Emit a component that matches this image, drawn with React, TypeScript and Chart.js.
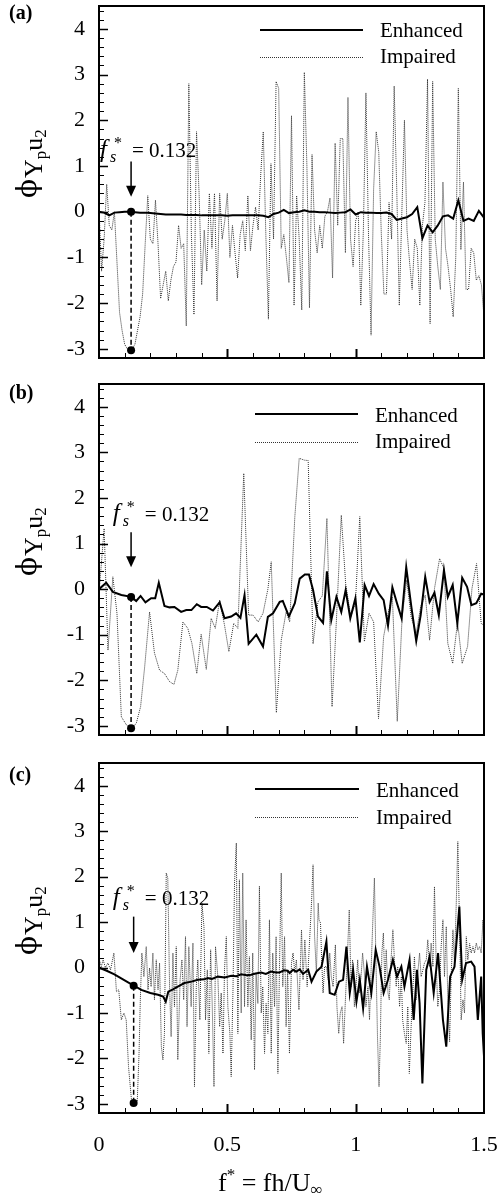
import React, { useEffect, useRef } from "react";
import { Chart, registerables } from "chart.js";
Chart.register(...registerables);

const FONT = '"Liberation Serif", "DejaVu Serif", "Times New Roman", serif';
const PHI_FONT = '"DejaVu Serif", serif';

// ---------------- DATA ----------------
const seriesNames = ["Enhanced", "Impaired"];
const panelLabels = ["(a)", "(b)", "(c)"];
const yTicks = [-3, -2, -1, 0, 1, 2, 3, 4];
const xTicks = [0, 0.5, 1, 1.5];
const noteText = "= 0.132";

// frequency bins (uniform FFT grid)
const bins = (n: number, step: number) => Array.from({ length: n }, (_, i) => +(i * step).toFixed(3));

// Panel (a)
const aImpV = [
  0.1, -1.3, -0.6, 0.6, -0.3, -0.4, 0.0, -1.1, -2.2, -2.6,
  -2.9, -3.0, -3.03, -3.0, -2.9, -2.6, -2.3, -1.8, -0.7, 0.35,
  -0.6, -0.7, 0.25, -0.7, -1.9, -1.6, -1.3, -1.95, -1.5, -1.2,
  -1.1, -0.3, -0.8, -0.7, -2.5, 2.8, -0.5, -2.25, 1.75, 0.4,
  -1.6, -0.4, -1.3, 0.4, -0.8, 0.4, -1.95, 0.4, -0.6, -0.2,
  0.4, -1.0, -0.3, -0.9, -1.45, -0.5, -0.2, -0.85, 0.35, -0.85,
  -0.3, 0.1, -0.4, 0.8, 1.75, -0.5, -2.35, 1.05, -0.6, 2.85,
  2.7, -0.8, -0.5, -1.0, -1.55, 2.1, -2.05, 0.35, -0.6, -2.15,
  3.05, 1.0, -2.1, 1.25, -0.4, -0.9, -0.3, -0.8, -0.1, 0.0,
  0.3, -1.45, 1.5, -0.3, 1.6, 1.6, -0.9, 2.5, -0.6, -1.2,
  -0.2, 0.0, -2.05, -0.4, 2.6, -0.5, -2.7, 0.5, 1.75, 1.3,
  -0.5, -1.8, -1.8, 0.2, -0.6, 2.75, 0.5, -2.05, 0.0, 2.0,
  -0.4, -1.1, -1.7, -0.6, -0.8, -2.05, -0.3, 0.2, 2.9, -2.45,
  2.85, -0.6, -1.2, -1.7, 0.65, -0.8, -1.2, -1.7, -2.3, -1.0,
  2.7, -0.83, 0.65, -1.7, -1.7, -0.8, -0.9, -1.5, -1.4, -1.6,
  -2.3,
];
const aImpF = bins(aImpV.length, 0.01);
const aEnhV = [
  0.0, -0.02, -0.08, -0.02, -0.01, 0.0, 0.0, -0.01, -0.02, -0.02,
  -0.03, -0.04, -0.05, -0.06, -0.06, -0.06, -0.06, -0.07, -0.07, -0.07,
  -0.08, -0.08, -0.08, -0.08, -0.08, -0.09, -0.08, -0.08, -0.08, -0.08,
  -0.08, -0.08, -0.09, -0.12, -0.05, -0.02, 0.04, -0.03, -0.01, 0.0,
  0.03, 0.0, 0.0, -0.01, -0.01, -0.02, -0.03, -0.02, -0.01, 0.05,
  -0.06, -0.01, -0.02, -0.02, -0.03, -0.03, -0.02, -0.05, -0.18, -0.15,
  -0.12, -0.05, 0.1, -0.58, -0.3, -0.45, -0.3, -0.1, -0.08, -0.15,
  0.25, -0.2, -0.15, -0.2, 0.02, -0.13,
];
const aEnhF = bins(aEnhV.length, 0.02);

// Panel (b)
const bEnhF = [
  0.0, 0.028, 0.054, 0.087, 0.126, 0.145, 0.162, 0.181, 0.203, 0.219,
  0.233, 0.255, 0.275, 0.294, 0.32, 0.34, 0.36, 0.381, 0.398, 0.42,
  0.444, 0.47, 0.489, 0.515, 0.534, 0.551, 0.567, 0.583, 0.613, 0.639,
  0.658, 0.678, 0.704, 0.716, 0.74, 0.763, 0.782, 0.802, 0.818, 0.834,
  0.853, 0.873, 0.888, 0.905, 0.925, 0.944, 0.961, 0.979, 0.999, 1.016,
  1.035, 1.052, 1.07, 1.09, 1.109, 1.126, 1.143, 1.161, 1.179, 1.197,
  1.217, 1.236, 1.253, 1.271, 1.288, 1.307, 1.324, 1.344, 1.359, 1.378,
  1.396, 1.415, 1.434, 1.451, 1.47, 1.489, 1.5,
];
const bEnhV = [
  0.0, 0.14, -0.06, -0.13, -0.17, -0.26, -0.15, -0.29, -0.2, -0.2,
  0.14, -0.37, -0.4, -0.39, -0.5, -0.46, -0.46, -0.33, -0.39, -0.39,
  -0.47, -0.29, -0.64, -0.6, -0.53, -0.63, -0.13, -1.2, -1.0, -1.26,
  -0.61, -0.53, -0.28, -0.26, -0.6, -0.31, 0.23, 0.32, 0.32, -0.02,
  -0.6, -0.74, 0.39, -0.68, -0.17, -0.5, -0.02, -0.64, -0.2, -1.17,
  0.09, -0.15, 0.11, -0.1, -0.24, -0.8, 0.04, -0.31, -0.64, 0.48,
  -0.39, -1.14, -0.58, 0.27, -0.28, -0.08, -0.57, 0.42, -0.17, 0.09,
  -0.75, 0.25, 0.05, -0.35, -0.31, -0.1, -0.12,
];
const bImpF = [
  0.0, 0.02, 0.035, 0.054, 0.07, 0.087, 0.107, 0.126, 0.145, 0.162,
  0.178, 0.197, 0.216, 0.236, 0.255, 0.275, 0.292, 0.307, 0.327, 0.346,
  0.362, 0.381, 0.398, 0.418, 0.437, 0.453, 0.47, 0.489, 0.506, 0.525,
  0.541, 0.564, 0.583, 0.6, 0.62, 0.639, 0.658, 0.671, 0.691, 0.71,
  0.729, 0.743, 0.763, 0.78, 0.8, 0.815, 0.834, 0.853, 0.87, 0.888,
  0.908, 0.925, 0.944, 0.961, 0.981, 0.999, 1.016, 1.034, 1.052, 1.07,
  1.089, 1.109, 1.126, 1.143, 1.162, 1.181, 1.199, 1.216, 1.236, 1.253,
  1.271, 1.288, 1.307, 1.327, 1.344, 1.359, 1.378, 1.397, 1.415, 1.436,
  1.453, 1.471, 1.489, 1.5,
];
const bImpV = [
  -0.1, 1.33, -1.34, 0.27, -0.53, -2.8, -2.98, -3.05, -2.95, -2.58,
  -1.7, -0.5, -1.4, -1.78, -1.85, -2.03, -2.09, -1.78, -0.72, -0.86,
  -1.19, -1.85, -0.99, -1.76, -0.64, -0.86, -0.24, -0.79, -1.37, -0.75,
  -0.86, 2.54, -0.57, -0.57, -0.72, -0.53, 0.0, 0.6, -2.71, -1.12,
  -0.5, -0.72, 1.59, 2.87, 2.83, 2.82, -1.2, -0.28, -0.15, 1.55,
  -2.58, -0.68, 1.62, 0.12, -0.61, -0.31, 1.59, -1.15, -0.53, -0.72,
  -2.84, -1.04, -0.53, -0.17, -2.9, -0.61, 0.2, -0.61, -0.97, -0.39,
  -0.13, -1.12, 0.01, 0.67, 0.45, -1.19, -1.63, -0.72, -1.63, -1.26,
  0.01, 0.56, -0.75, -0.8,
];

// Panel (c)
const cEnhF = [
  0.0, 0.03, 0.06, 0.09, 0.115, 0.136, 0.165, 0.2, 0.23, 0.25,
  0.26, 0.27, 0.288, 0.307, 0.333, 0.36, 0.385, 0.41, 0.424, 0.44,
  0.463, 0.49, 0.515, 0.535, 0.554, 0.575, 0.593, 0.61, 0.632, 0.65,
  0.67, 0.69, 0.703, 0.72, 0.735, 0.743, 0.756, 0.769, 0.782, 0.795,
  0.815, 0.828, 0.847, 0.867, 0.886, 0.899, 0.918, 0.935, 0.951, 0.964,
  0.977, 0.99, 1.003, 1.016, 1.029, 1.044, 1.061, 1.078, 1.093, 1.109,
  1.126, 1.145, 1.161, 1.178, 1.19, 1.21, 1.226, 1.239, 1.249, 1.26,
  1.275, 1.288, 1.304, 1.321, 1.34, 1.353, 1.368, 1.385, 1.404, 1.415,
  1.43, 1.45, 1.463, 1.476, 1.489, 1.495, 1.5,
];
const cEnhV = [
  0.0, -0.07, -0.15, -0.25, -0.33, -0.4, -0.49, -0.56, -0.6, -0.64,
  -0.75, -0.53, -0.48, -0.42, -0.34, -0.31, -0.27, -0.26, -0.23, -0.25,
  -0.2, -0.22, -0.18, -0.19, -0.15, -0.17, -0.16, -0.13, -0.11, -0.14,
  -0.09, -0.11, -0.11, -0.06, -0.07, -0.12, -0.05, -0.09, -0.04, -0.14,
  -0.05, -0.31, -0.09, 0.02, 0.57, -0.56, -0.6, -0.31, -0.27, 0.46,
  -0.56, -0.05, -0.75, -0.27, -0.9, 0.02, -0.56, 0.39, 0.02, -0.56,
  -0.27, 0.17, -0.2, 0.02, -0.42, 0.17, -1.15, -0.05, -0.78, -2.55,
  -0.05, 0.24, -0.56, 0.32, -1.15, -1.74, -0.2, 0.02, 1.34, -0.27,
  0.1, 0.13, 0.02, -1.15, -0.2, -1.45, -1.95,
];
const cImpF = [
  0.0, 0.009, 0.016, 0.025, 0.035, 0.045, 0.058, 0.068, 0.077, 0.087,
  0.097, 0.106, 0.115, 0.126, 0.139, 0.149, 0.156, 0.161, 0.167, 0.175,
  0.184, 0.191, 0.197, 0.203, 0.21, 0.216, 0.223, 0.23, 0.236, 0.243,
  0.249, 0.255, 0.262, 0.268, 0.275, 0.281, 0.288, 0.294, 0.301, 0.307,
  0.316, 0.323, 0.33, 0.337, 0.343, 0.35, 0.359, 0.366, 0.372, 0.379,
  0.385, 0.393, 0.401, 0.409, 0.415, 0.422, 0.428, 0.435, 0.441, 0.448,
  0.454, 0.463, 0.47, 0.476, 0.483, 0.489, 0.496, 0.502, 0.51, 0.515,
  0.522, 0.528, 0.535, 0.541, 0.547, 0.554, 0.56, 0.567, 0.573, 0.58,
  0.586, 0.593, 0.599, 0.606, 0.612, 0.619, 0.625, 0.632, 0.638, 0.645,
  0.651, 0.658, 0.664, 0.671, 0.677, 0.684, 0.69, 0.697, 0.703, 0.71,
  0.716, 0.723, 0.729, 0.735, 0.742, 0.75, 0.756, 0.763, 0.769, 0.779,
  0.789, 0.795, 0.802, 0.811, 0.818, 0.828, 0.834, 0.84, 0.847, 0.854,
  0.857, 0.863, 0.868, 0.873, 0.879, 0.886, 0.893, 0.899, 0.905, 0.912,
  0.921, 0.927, 0.934, 0.94, 0.947, 0.953, 0.96, 0.966, 0.975, 0.982,
  0.988, 0.995, 1.001, 1.008, 1.014, 1.021, 1.027, 1.034, 1.04, 1.048,
  1.054, 1.061, 1.067, 1.073, 1.079, 1.085, 1.091, 1.096, 1.102, 1.108,
  1.114, 1.119, 1.126, 1.131, 1.137, 1.145, 1.151, 1.158, 1.164, 1.171,
  1.178, 1.183, 1.19, 1.197, 1.203, 1.209, 1.216, 1.223, 1.229, 1.236,
  1.242, 1.249, 1.255, 1.262, 1.268, 1.275, 1.281, 1.288, 1.294, 1.301,
  1.307, 1.314, 1.32, 1.327, 1.333, 1.34, 1.346, 1.353, 1.359, 1.366,
  1.372, 1.379, 1.385, 1.392, 1.398, 1.405, 1.411, 1.418, 1.424, 1.431,
  1.437, 1.444, 1.45, 1.457, 1.463, 1.47, 1.476, 1.483, 1.489, 1.496,
  1.5,
];
const cImpV = [
  0.2, 0.02, 0.17, 0.0, 0.1, -0.05, 0.32, -0.53, -0.49, -1.15,
  -1.0, -1.15, -2.18, -2.88, -2.99, -2.95, -1.89, -0.71, 0.32, -0.2,
  0.46, -0.49, -0.01, -0.42, 0.32, -0.71, 0.17, -0.49, 0.1, -1.74,
  -2.03, -1.45, 2.08, 1.97, -0.42, -1.52, 0.32, -0.86, 0.46, -2.03,
  -0.27, 0.17, -0.71, 0.68, -1.3, 0.46, -0.86, 0.54, -2.62, -0.42,
  0.17, -1.15, 1.42, 0.9, -1.15, -0.05, -1.89, 0.39, -0.79, -2.62,
  0.46, -0.2, -1.3, -0.56, -1.89, -0.05, 0.68, -0.86, -1.45, -2.4,
  -0.49, 1.86, 2.74, -1.45, 1.93, -1.0, 2.08, -0.86, 1.05, -0.86,
  0.24, -1.59, 0.32, -2.25, -0.12, -0.79, 1.79, -1.0, -0.42, -1.89,
  -0.79, -1.45, 1.05, -1.89, 0.32, -0.86, 0.68, -2.33, -0.05, 2.08,
  -0.42, 0.68, -1.3, -0.05, -1.89, 0.1, 0.32, -0.12, 0.17, -0.93,
  0.83, -0.27, 0.61, -0.42, 0.32, 1.42, 2.26, 0.68, -0.12, 1.42,
  1.05, 0.98, 0.1, -0.56, 0.02, 0.02, -0.27, 0.32, -0.2, -0.42,
  0.5, -0.86, -1.45, -1.0, -0.86, -1.67, -0.71, 0.02, 1.27, -0.42,
  0.17, -0.86, -0.42, 0.17, -0.56, -0.2, 0.32, -0.12, -0.86, -0.42,
  -1.15, 0.1, 1.05, 1.97, 0.17, -1.52, -2.62, -1.59, 0.32, 0.76,
  -0.42, 0.39, -0.56, -0.71, 0.1, 0.83, 0.17, -0.42, 0.02, -0.86,
  -0.2, -1.15, -1.45, -1.67, -0.86, -2.33, -1.3, -0.49, 0.24, -0.71,
  -0.12, 0.32, -0.2, -0.05, 0.1, 0.17, 0.61, 0.02, 0.54, 0.02,
  1.78, 0.02, -0.86, -0.49, 0.46, 1.05, -0.2, 0.9, -0.71, -1.63,
  -0.2, 0.83, 0.1, 1.42, 2.77, 0.83, -1.15, -0.71, -1.0, 0.68,
  0.17, 0.53, 0.32, 0.46, 0.32, 0.54, 0.39, 0.46, 0.32, 1.05,
  0.3,
];

// Shedding-frequency markers (f*_s) per panel
const markF = [0.125, 0.125, 0.135];
const markEnh = [0.0, -0.17, -0.4];
const markImp = [-3.03, -3.05, -2.98];

// ---------------- LAYOUT ----------------
type Cfg = {
  idx: number;
  top: number;
  height: number;
  xAxisH: number;
  enhF: number[]; enhV: number[];
  impF: number[]; impV: number[];
  labelDy: number;
  leg: { x0: number; x1: number; tx: number; l1: number; t1: number; l2: number; t2: number };
  note: { f: number; v: number };
  arrow: { top: number; tip: number };
  showX: boolean;
};

const panels: Cfg[] = [
  {
    idx: 0, top: 0, height: 378, xAxisH: 20,
    enhF: aEnhF, enhV: aEnhV, impF: aImpF, impV: aImpV,
    labelDy: 13,
    leg: { x0: 260, x1: 363, tx: 380, l1: 24, t1: 31, l2: 51, t2: 57 },
    note: { f: 0.004, v: 1.19 },
    arrow: { top: 1.1, tip: 0.33 },
    showX: false,
  },
  {
    idx: 1, top: 378, height: 379, xAxisH: 22,
    enhF: bEnhF, enhV: bEnhV, impF: bImpF, impV: bImpV,
    labelDy: 15,
    leg: { x0: 255, x1: 358, tx: 375, l1: 30, t1: 38, l2: 58, t2: 64 },
    note: { f: 0.054, v: 1.49 },
    arrow: { top: 1.25, tip: 0.48 },
    showX: false,
  },
  {
    idx: 2, top: 757, height: 444, xAxisH: 88,
    enhF: cEnhF, enhV: cEnhV, impF: cImpF, impV: cImpV,
    labelDy: 18,
    leg: { x0: 255, x1: 359, tx: 376, l1: 26, t1: 34, l2: 54, t2: 61 },
    note: { f: 0.054, v: 1.38 },
    arrow: { top: 1.12, tip: 0.32 },
    showX: true,
  },
];

const IMP_COLOR = "#333333";

function line(ctx: CanvasRenderingContext2D, x0: number, y0: number, x1: number, y1: number) {
  ctx.beginPath();
  ctx.moveTo(x0, y0);
  ctx.lineTo(x1, y1);
  ctx.stroke();
}

function makeDecor(p: Cfg) {
  return {
    id: "decor" + p.idx,
    afterDraw(chart: any) {
      const ctx: CanvasRenderingContext2D = chart.ctx;
      const ca = chart.chartArea;
      const xs = chart.scales.x;
      const ys = chart.scales.y;
      ctx.save();
      ctx.strokeStyle = "#000";
      ctx.fillStyle = "#000";
      ctx.setLineDash([]);
      // inward ticks, bottom
      for (let k = 1; k < 15; k++) {
        const px = Math.round(xs.getPixelForValue(k / 10)) + 0.5;
        const major = k % 5 === 0;
        ctx.lineWidth = major ? 2 : 1;
        line(ctx, px, ca.bottom, px, ca.bottom - (major ? 9 : 5));
      }
      // inward ticks, left
      for (let k = -16; k <= 22; k++) {
        const v = k / 5;
        if (v <= ys.min || v >= ys.max) continue;
        const py = Math.round(ys.getPixelForValue(v)) + 0.5;
        const major = k % 5 === 0;
        ctx.lineWidth = major ? 1.5 : 1;
        line(ctx, ca.left, py, ca.left + (major ? 9 : 5), py);
      }
      // frame
      ctx.lineWidth = 2;
      ctx.strokeRect(ca.left, ca.top, ca.right - ca.left, ca.bottom - ca.top);

      // panel label
      ctx.font = `bold 20px ${FONT}`;
      ctx.textAlign = "left";
      ctx.textBaseline = "alphabetic";
      ctx.fillText(panelLabels[p.idx], 9, ca.top + p.labelDy);

      // y axis title  ϕ_{Y_p u_2}
      ctx.save();
      ctx.translate(42, ca.top + 192);
      ctx.rotate(-Math.PI / 2);
      let u = 0;
      const seg = (t: string, size: number, dv: number, fam: string) => {
        ctx.font = `${size}px ${fam}`;
        ctx.fillText(t, u, dv);
        u += ctx.measureText(t).width;
      };
      seg("ϕ", 28, -6, PHI_FONT);
      u += 1;
      seg("Y", 26, 0, FONT);
      seg("p", 17, 4, FONT);
      seg("u", 26, 0, FONT);
      seg("2", 17, 4, FONT);
      ctx.restore();

      // legend
      const L = p.leg;
      ctx.strokeStyle = "#000";
      ctx.lineWidth = 2;
      ctx.setLineDash([]);
      line(ctx, L.x0, ca.top + L.l1, L.x1, ca.top + L.l1);
      ctx.strokeStyle = IMP_COLOR;
      ctx.lineWidth = 1;
      ctx.setLineDash([1, 1]);
      line(ctx, L.x0, ca.top + L.l2 + 0.5, L.x1, ca.top + L.l2 + 0.5);
      ctx.setLineDash([]);
      ctx.font = `21px ${FONT}`;
      ctx.fillText(seriesNames[0], L.tx, ca.top + L.t1);
      ctx.fillText(seriesNames[1], L.tx, ca.top + L.t2);

      // annotation f*_s = 0.132
      const nx = xs.getPixelForValue(p.note.f);
      const ny = ys.getPixelForValue(p.note.v);
      ctx.font = `italic 25px ${FONT}`;
      ctx.fillText("f", nx, ny);
      ctx.font = `italic 16px ${FONT}`;
      ctx.fillText("s", nx + 10, ny + 5);
      ctx.font = `16px ${FONT}`;
      ctx.fillText("*", nx + 14, ny - 9);
      ctx.font = `21px ${FONT}`;
      ctx.fillText(noteText, nx + 32, ny);

      // arrow
      const ax = xs.getPixelForValue(markF[p.idx]);
      const at = ys.getPixelForValue(p.arrow.top);
      const ab = ys.getPixelForValue(p.arrow.tip);
      ctx.strokeStyle = "#000";
      ctx.lineWidth = 1.5;
      line(ctx, ax, at, ax, ab - 10);
      ctx.beginPath();
      ctx.moveTo(ax - 5, ab - 11);
      ctx.lineTo(ax + 5, ab - 11);
      ctx.lineTo(ax, ab);
      ctx.closePath();
      ctx.fill();

      // x axis title
      if (p.showX) {
        let x = 218;
        const yb = ca.bottom + 78;
        const s2 = (t: string, size: number, dy: number) => {
          ctx.font = `${size}px ${FONT}`;
          ctx.fillText(t, x, yb + dy);
          x += ctx.measureText(t).width;
        };
        s2("f", 26, 0);
        s2("*", 17, -11);
        s2(" = fh/U", 26, 0);
        s2("∞", 17, 4);
      }
      ctx.restore();
    },
  };
}

function Panel({ p }: { p: Cfg }) {
  const ref = useRef<HTMLCanvasElement>(null);
  useEffect(() => {
    const enh = p.enhF.map((f, i) => ({ x: f, y: p.enhV[i] }));
    const imp = p.impF.map((f, i) => ({ x: f, y: p.impV[i] }));
    const mk = [
      { x: markF[p.idx], y: markEnh[p.idx] },
      { x: markF[p.idx], y: markImp[p.idx] },
    ];
    const chart = new Chart(ref.current as HTMLCanvasElement, {
      type: "line",
      data: {
        datasets: [
          {
            label: "marker",
            data: mk,
            borderColor: "#000",
            backgroundColor: "#000",
            borderWidth: 1.5,
            borderDash: [5, 3],
            pointRadius: 4,
            pointBackgroundColor: "#000",
            pointBorderWidth: 0,
          },
          {
            label: seriesNames[0],
            data: enh,
            borderColor: "#000",
            borderWidth: 2,
            pointRadius: 0,
            tension: 0,
          },
          {
            label: seriesNames[1],
            data: imp,
            borderColor: IMP_COLOR,
            borderWidth: 1,
            borderDash: [1, 1],
            pointRadius: 0,
            tension: 0,
          },
        ],
      } as any,
      options: {
        responsive: false,
        animation: false,
        events: [],
        layout: { padding: { left: 0, right: 18, top: 6, bottom: 0 } },
        plugins: { legend: { display: false }, tooltip: { enabled: false } },
        scales: {
          x: {
            type: "linear",
            min: 0,
            max: 1.5,
            grid: { display: false, drawTicks: false },
            border: { display: false },
            afterBuildTicks: (s: any) => {
              s.ticks = xTicks.map((v) => ({ value: v }));
            },
            afterFit: (s: any) => {
              s.height = p.xAxisH;
              s.paddingLeft = 0;
              s.paddingRight = 0;
            },
            ticks: {
              display: p.showX,
              padding: 19,
              maxRotation: 0,
              autoSkip: false,
              color: "#000",
              font: { family: FONT, size: 22 },
              callback: (v: any) => String(v),
            },
          },
          y: {
            type: "linear",
            min: -3.2,
            max: 4.5,
            grid: { display: false, drawTicks: false },
            border: { display: false },
            afterBuildTicks: (s: any) => {
              s.ticks = yTicks.map((v) => ({ value: v }));
            },
            afterFit: (s: any) => {
              s.width = 99;
              s.paddingTop = 0;
              s.paddingBottom = 0;
            },
            ticks: {
              padding: 14,
              color: "#000",
              font: { family: FONT, size: 22 },
              callback: (v: any) => String(v),
            },
          },
        },
      } as any,
      plugins: [makeDecor(p)],
    });
    return () => chart.destroy();
  }, [p]);
  return (
    <canvas
      ref={ref}
      width={502}
      height={p.height}
      style={{ position: "absolute", left: 0, top: p.top, width: 502, height: p.height }}
    />
  );
}

export default function App() {
  return (
    <div style={{ position: "absolute", left: 0, top: 0, width: 502, height: 1201, background: "#fff", overflow: "hidden" }}>
      {panels.map((p) => (
        <Panel key={p.idx} p={p} />
      ))}
    </div>
  );
}
